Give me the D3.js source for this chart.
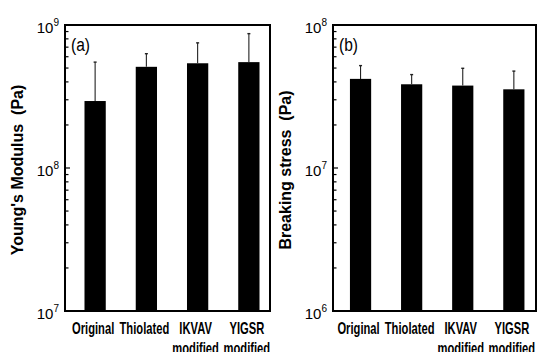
<!DOCTYPE html>
<html>
<head>
<meta charset="utf-8">
<script src="https://cdn.jsdelivr.net/npm/d3@7"></script>
<style>
  html, body { margin: 0; padding: 0; background: #fff; }
  svg { display: block; }
</style>
</head>
<body>
<svg id="chart" width="538" height="352"></svg>
<script>
// Sample groups (two-line tick labels)
const categories = ["Original", "Thiolated", "IKVAV modified", "YIGSR modified"];
const labelLine1 = ["Original", "Thiolated", "IKVAV", "YIGSR"];
const labelLine2 = ["", "", "modified", "modified"];

// Young's modulus (Pa): mean and upper standard deviation
const youngsModulus = [2.94e8, 5.1e8, 5.4e8, 5.5e8];
const youngsModulusSD = [2.56e8, 1.2e8, 2.1e8, 3.2e8];

// Breaking stress (Pa): mean and upper standard deviation
const breakingStress = [4.2e7, 3.85e7, 3.77e7, 3.55e7];
const breakingStressSD = [1.0e7, 0.65e7, 1.21e7, 1.21e7];

// Decade tick exponents for each panel
const youngsDecades = [7, 8, 9];
const stressDecades = [6, 7, 8];

const svg = d3.select("#chart");

const panels = [
  { tag: "(a)", title: "Young's Modulus  (Pa)", values: youngsModulus, sd: youngsModulusSD,
    decades: youngsDecades, left: 65, right: 270, titleX: 22.5, range: [4.5, 209.5] },
  { tag: "(b)", title: "Breaking stress  (Pa)", values: breakingStress, sd: breakingStressSD,
    decades: stressDecades, left: 333, right: 536, titleX: 290.5, range: [2, 206.4] }
];

const plotTop = 25, plotBottom = 311;
const narrow = 0.7; // horizontal squeeze for the condensed label face

panels.forEach(p => {
  const w = p.right - p.left;
  const g = svg.append("g").attr("transform", `translate(${p.left},0)`);

  const lo = Math.pow(10, d3.min(p.decades));
  const hi = Math.pow(10, d3.max(p.decades));
  const y = d3.scaleLog().domain([lo, hi]).range([plotBottom, plotTop]);

  const x = d3.scaleBand().domain(categories).range(p.range)
    .paddingInner(0.585).paddingOuter(0.2925);

  // bars
  g.selectAll("rect.bar").data(categories).join("rect")
    .attr("class", "bar")
    .attr("x", d => x(d))
    .attr("width", x.bandwidth())
    .attr("y", (d, i) => y(p.values[i]))
    .attr("height", (d, i) => plotBottom - y(p.values[i]))
    .attr("fill", "#000");

  // upper error whiskers
  const eb = g.selectAll("g.err").data(categories).join("g").attr("class", "err");
  eb.append("line")
    .attr("x1", d => x(d) + x.bandwidth() / 2)
    .attr("x2", d => x(d) + x.bandwidth() / 2)
    .attr("y1", (d, i) => y(p.values[i]))
    .attr("y2", (d, i) => y(p.values[i] + p.sd[i]))
    .attr("stroke", "#222").attr("stroke-width", 1.1);
  eb.append("line")
    .attr("x1", d => x(d) + x.bandwidth() / 2 - 1.5)
    .attr("x2", d => x(d) + x.bandwidth() / 2 + 1.5)
    .attr("y1", (d, i) => y(p.values[i] + p.sd[i]))
    .attr("y2", (d, i) => y(p.values[i] + p.sd[i]))
    .attr("stroke", "#222").attr("stroke-width", 1.4);

  // inward ticks on the left axis
  const allTicks = y.ticks();
  g.selectAll("line.tick").data(allTicks).join("line")
    .attr("class", "tick")
    .attr("x1", 0)
    .attr("x2", d => (Math.abs(Math.log10(d) - Math.round(Math.log10(d))) < 1e-9) ? 5 : 3.5)
    .attr("y1", d => y(d)).attr("y2", d => y(d))
    .attr("stroke", "#000").attr("stroke-width", 1.2);

  // frame
  g.append("rect")
    .attr("x", 0).attr("y", plotTop).attr("width", w).attr("height", plotBottom - plotTop)
    .attr("fill", "none").attr("stroke", "#000").attr("stroke-width", 2);

  // decade labels 10^n
  const dl = g.selectAll("text.dec").data(p.decades).join("text")
    .attr("class", "dec")
    .attr("x", -6)
    .attr("y", d => y(Math.pow(10, d)) + 8)
    .attr("text-anchor", "end")
    .attr("font-family", "Liberation Sans, Arial, sans-serif")
    .attr("font-size", 15)
    .attr("fill", "#000");
  dl.append("tspan").text("10");
  dl.append("tspan").attr("dy", -7).attr("font-size", 10).text(d => d);

  // panel tag
  g.append("g")
    .attr("transform", `translate(6,${plotTop + 26}) scale(0.82,1)`)
    .append("text")
    .attr("font-family", "Liberation Sans, Arial, sans-serif")
    .attr("font-size", 19)
    .attr("fill", "#000")
    .text(p.tag);

  // category labels (two lines, condensed)
  const cl = g.selectAll("g.cat").data(categories).join("g")
    .attr("class", "cat")
    .attr("transform", d => `translate(${x(d) + x.bandwidth() / 2 - 2},0) scale(${narrow},1)`);
  const ct = cl.append("text")
    .attr("text-anchor", "middle")
    .attr("font-family", "Liberation Sans, Arial, sans-serif")
    .attr("font-weight", "bold")
    .attr("font-size", 16)
    .attr("fill", "#000");
  ct.append("tspan").attr("x", 0).attr("y", 334.5).text((d, i) => labelLine1[i]);
  ct.append("tspan").attr("x", 0).attr("y", 354).text((d, i) => labelLine2[i]);

  // y-axis title
  svg.append("text")
    .attr("transform", `translate(${p.titleX},${(plotTop + plotBottom) / 2 + 2}) rotate(-90)`)
    .attr("text-anchor", "middle")
    .attr("font-family", "Liberation Sans, Arial, sans-serif")
    .attr("font-weight", "bold")
    .attr("font-size", 16)
    .attr("fill", "#000")
    .style("white-space", "pre")
    .text(p.title);
});
</script>
</body>
</html>
